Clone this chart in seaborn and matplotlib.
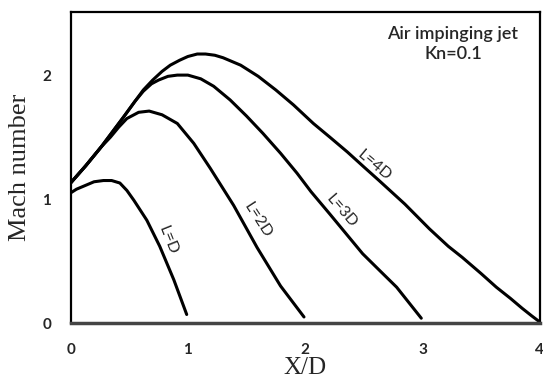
import matplotlib
matplotlib.use('Agg')
import matplotlib.pyplot as plt
import pandas as pd
import seaborn as sns

# Mach number along the wall
x_1d = [0.0, 0.05, 0.1, 0.15, 0.2, 0.28, 0.35, 0.42, 0.48, 0.54, 0.65, 0.76, 0.88, 0.99]
m_1d = [1.05, 1.08, 1.10, 1.12, 1.14, 1.15, 1.15, 1.13, 1.07, 0.99, 0.83, 0.62, 0.35, 0.07]

x_2d = [0.0, 0.13, 0.26, 0.34, 0.41, 0.48, 0.58, 0.67, 0.78, 0.91, 1.05, 1.19,
        1.39, 1.59, 1.79, 1.99]
m_2d = [1.13, 1.27, 1.42, 1.50, 1.58, 1.65, 1.70, 1.71, 1.68, 1.61, 1.45, 1.25,
        0.95, 0.61, 0.30, 0.05]

x_3d = [0.0, 0.13, 0.26, 0.45, 0.55, 0.62, 0.69, 0.75, 0.83, 0.91, 1.0, 1.11,
        1.22, 1.36, 1.50, 1.64, 1.79, 1.93, 2.05, 2.21, 2.35, 2.49, 2.64, 2.78, 2.99]
m_3d = [1.13, 1.27, 1.42, 1.66, 1.79, 1.87, 1.93, 1.96, 1.99, 2.00, 2.00, 1.97,
        1.91, 1.80, 1.67, 1.53, 1.37, 1.21, 1.06, 0.88, 0.72, 0.56, 0.42, 0.29, 0.04]

x_4d = [0.0, 0.13, 0.26, 0.45, 0.55, 0.62, 0.70, 0.78, 0.85, 0.93, 1.0, 1.08,
        1.15, 1.23, 1.30, 1.45, 1.60, 1.75, 1.90, 2.07, 2.21, 2.36, 2.50, 2.63,
        2.85, 3.06, 3.22, 3.34, 3.50, 3.63, 3.75, 3.85, 3.93, 4.0]
m_4d = [1.13, 1.27, 1.42, 1.66, 1.79, 1.88, 1.96, 2.03, 2.08, 2.12, 2.15, 2.17,
        2.17, 2.16, 2.14, 2.08, 1.99, 1.88, 1.76, 1.61, 1.50, 1.38, 1.26, 1.15,
        0.96, 0.76, 0.62, 0.53, 0.40, 0.29, 0.20, 0.12, 0.06, 0.01]

cases = ['L=D', 'L=2D', 'L=3D', 'L=4D']
xs = [x_1d, x_2d, x_3d, x_4d]
ms = [m_1d, m_2d, m_3d, m_4d]

# where each curve label sits (data coords) and its angle
label_x = [0.83, 1.59, 2.31, 2.59]
label_y = [0.67, 0.83, 0.90, 1.27]
label_rot = [-68, -57, -49, -40]

rows = []
for c, x, m in zip(cases, xs, ms):
    for xi, mi in zip(x, m):
        rows.append({'case': c, 'X/D': xi, 'Mach': mi})
df = pd.DataFrame(rows)

sns.set_style('white')
plt.rcParams['font.family'] = ['Lato', 'DejaVu Sans']

fig = plt.figure(figsize=(5.43, 3.82), dpi=100)
ax = fig.add_axes([0.130, 0.154, 0.864, 0.815])

sns.lineplot(data=df, x='X/D', y='Mach', hue='case', units='case', estimator=None,
             sort=False, palette=['black'] * 4, linewidth=2.2, legend=False, ax=ax)

ax.set_xlim(0, 4)
ax.set_ylim(0, 2.51)
ax.set_xticks([0, 1, 2, 3, 4])
ax.set_yticks([0, 1, 2])
ax.set_xticks([0.5, 1.5, 2.5, 3.5], minor=True)
ax.set_yticks([0.5, 1.5], minor=True)
ax.tick_params(which='both', direction='in', length=4, color='#888888',
               labelsize=11, pad=14)
for lab in ax.get_xticklabels() + ax.get_yticklabels():
    lab.set_fontweight('bold')

for s in ['top', 'right', 'left']:
    ax.spines[s].set_color('black')
    ax.spines[s].set_linewidth(1.6)
ax.spines['bottom'].set_color('#444444')
ax.spines['bottom'].set_linewidth(2.5)

ax.set_xlabel('X/D', family='Liberation Serif', fontsize=18, labelpad=0)
ax.set_ylabel('Mach number', family='Liberation Serif', fontsize=19, labelpad=8)

for c, lx, ly, r in zip(cases, label_x, label_y, label_rot):
    ax.text(lx, ly, c, rotation=r, ha='center', va='center', fontsize=11.5)

ax.text(0.815, 0.897, 'Air impinging jet\nKn=0.1', transform=ax.transAxes,
        ha='center', va='center', fontsize=13, fontweight='semibold', linespacing=1.35)

fig.savefig('out.png', dpi=100)
